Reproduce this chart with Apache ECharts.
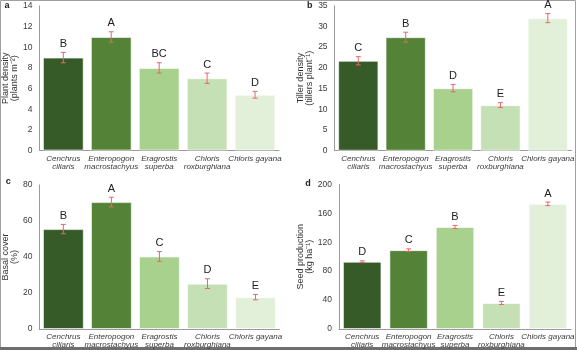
<!DOCTYPE html>
<html>
<head>
<meta charset="utf-8">
<script src="https://cdn.jsdelivr.net/npm/echarts@6/dist/echarts.min.js"></script>
<style>
  html, body { margin: 0; padding: 0; background: #fff; }
  #chart { width: 577px; height: 350px; }
</style>
</head>
<body>
<div id="chart"></div>
<script>
var species = ['Cenchrus\nciliaris', 'Enteropogon\nmacrostachyus', 'Eragrostis\nsuperba', 'Chloris\nroxburghiana', 'Chloris gayana']
var barColors = ['#375a29', '#548236', '#a9d18e', '#c5e0b4', '#e2f0d9']

var plantDensity = [9.0, 11.0, 8.0, 7.0, 5.4]
var plantDensityErr = [0.5, 0.5, 0.5, 0.5, 0.33]
var plantDensityLetters = ['B', 'A', 'BC', 'C', 'D']

var tillerDensity = [21.7, 27.4, 15.1, 11.0, 32.0]
var tillerDensityErr = [1.0, 1.2, 0.9, 0.6, 1.1]
var tillerDensityLetters = ['C', 'B', 'D', 'E', 'A']

var basalCover = [55.5, 70.5, 40.3, 25.2, 17.7]
var basalCoverErr = [2.6, 2.7, 2.7, 2.7, 1.5]
var basalCoverLetters = ['B', 'A', 'C', 'D', 'E']

var seedProduction = [93, 109, 141, 36, 173]
var seedProductionErr = [1.2, 1.8, 2.2, 2.2, 2.5]
var seedProductionLetters = ['D', 'C', 'B', 'E', 'A']

var font = '"Liberation Sans", Arial, sans-serif'

var panels = [
  { vals: plantDensity, err: plantDensityErr, letters: plantDensityLetters, max: 14, interval: 2,
    name: 'Plant density\n(plants m⁻²)', grid: { left: 37, top: 6, width: 242, height: 144.5 }, gap: '15%' },
  { vals: tillerDensity, err: tillerDensityErr, letters: tillerDensityLetters, max: 35, interval: 5,
    name: 'Tiller density\n(tillers plant⁻¹)', grid: { left: 334.6, top: 5.7, width: 242, height: 145 }, gap: '15%' },
  { vals: basalCover, err: basalCoverErr, letters: basalCoverLetters, max: 80, interval: 20,
    name: 'Basal cover\n(%)', grid: { left: 37.5, top: 185, width: 242, height: 144 }, gap: '15%' },
  { vals: seedProduction, err: seedProductionErr, letters: seedProductionLetters, max: 200, interval: 40,
    name: 'Seed production\n(kg ha⁻¹)', grid: { left: 339, top: 184.3, width: 237.5, height: 144.7 }, gap: '17%' }
]

var grids = [], xAxes = [], yAxes = [], series = []
panels.forEach(function (p, i) {
  grids.push(p.grid)
  xAxes.push({
    type: 'category', gridIndex: i, data: species,
    axisLine: { lineStyle: { color: '#9a9a9a', width: 1 } },
    axisTick: { show: false },
    axisLabel: { interval: 0, fontSize: 8, lineHeight: 8, fontStyle: 'italic', color: '#3a3a3a', fontFamily: font, margin: 4 }
  })
  yAxes.push({
    type: 'value', gridIndex: i, min: 0, max: p.max, interval: p.interval,
    name: p.name, nameLocation: 'middle', nameGap: 18, nameRotate: 90,
    nameTextStyle: { fontSize: 9, lineHeight: 9, color: '#333', fontFamily: font },
    axisLine: { show: true, lineStyle: { color: '#9a9a9a', width: 1 } },
    axisTick: { show: false },
    splitLine: { show: false },
    axisLabel: { fontSize: 8.5, color: '#3a3a3a', fontFamily: font, margin: 7 }
  })
  series.push({
    type: 'bar', xAxisIndex: i, yAxisIndex: i, barCategoryGap: p.gap, z: 2,
    data: p.vals.map(function (v, k) {
      return { value: v, itemStyle: { color: barColors[k] } }
    }),
    itemStyle: { borderColor: 'rgba(255,255,255,0.6)', borderWidth: 1 },
    silent: true
  })
  series.push({
    type: 'custom', xAxisIndex: i, yAxisIndex: i, silent: true, z: 10,
    data: p.vals.map(function (v, k) { return [k, v, p.err[k], p.letters[k]] }),
    renderItem: function (params, api) {
      var x = api.value(0)
      var top = api.coord([x, api.value(1) + api.value(2)])
      var bot = api.coord([x, api.value(1) - api.value(2)])
      var c = 2.5
      var st = { stroke: '#e8676b', lineWidth: 1 }
      return {
        type: 'group',
        children: [
          { type: 'line', z2: 10, shape: { x1: top[0], y1: top[1], x2: bot[0], y2: bot[1] }, style: st },
          { type: 'line', z2: 10, shape: { x1: top[0] - c, y1: top[1], x2: top[0] + c, y2: top[1] }, style: st },
          { type: 'line', z2: 10, shape: { x1: bot[0] - c, y1: bot[1], x2: bot[0] + c, y2: bot[1] }, style: st },
          { type: 'text', x: top[0], y: top[1] - 3,
            style: { text: api.value(3), fontSize: 11, fill: '#222', fontFamily: font, align: 'center', verticalAlign: 'bottom' } }
        ]
      }
    }
  })
})

var panelTags = [['a', 7, 6], ['b', 309.7, 5.7], ['c', 8.3, 181.7], ['d', 308, 183.3]]
var graphics = panelTags.map(function (t) {
  return { type: 'text', x: t[1], y: t[2], style: { text: t[0], fontSize: 9, fontWeight: 'bold', fill: '#222', fontFamily: font, align: 'center', verticalAlign: 'middle' } }
})
graphics.push({ type: 'rect', shape: { x: 0.5, y: 0.5, width: 575, height: 347 }, style: { fill: 'none', stroke: '#a0a0a0', lineWidth: 1 } })
graphics.push({ type: 'rect', shape: { x: 0, y: 347, width: 577, height: 3 }, style: { fill: '#6e6e6e' } })

var myChart = echarts.init(document.getElementById('chart'), null, { renderer: 'canvas' })
myChart.setOption({
  animation: false,
  textStyle: { fontFamily: font },
  grid: grids,
  xAxis: xAxes,
  yAxis: yAxes,
  series: series,
  graphic: graphics
})
</script>
</body>
</html>
